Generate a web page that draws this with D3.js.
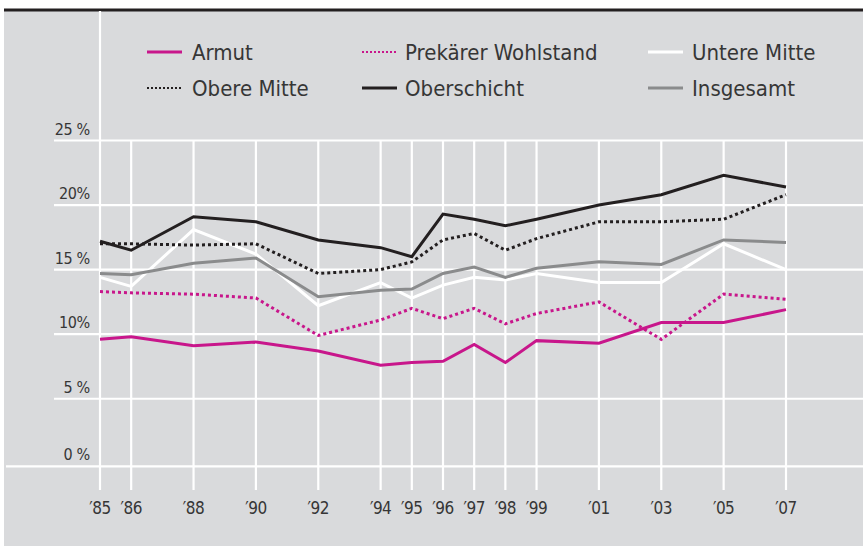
<!DOCTYPE html>
<html><head><meta charset="utf-8">
<script src="https://cdn.jsdelivr.net/npm/d3@7"></script>
<style>
html,body{margin:0;padding:0;background:#fff;}
svg{display:block;}
text{font-family:"DejaVu Sans Condensed","Liberation Sans Narrow",sans-serif;fill:#363636;}
</style></head>
<body>
<svg id="c" width="863" height="546"></svg>
<script>
const years = [1985,1986,1988,1990,1992,1994,1995,1996,1997,1998,1999,2001,2003,2005,2007];
const tickLabels = ["′85","′86","′88","′90","′92","′94","′95","′96","′97","′98","′99","′01","′03","′05","′07"];
const yTicks = [0,5,10,15,20,25];
const yTickLabels = ["0 %","5 %","10%","15 %","20%","25 %"];

const armut        = [9.6,9.8,9.1,9.4,8.7,7.6,7.8,7.9,9.2,7.8,9.5,9.3,10.9,10.9,11.9];
const prekaer      = [13.3,13.2,13.1,12.8,9.9,11.1,12.0,11.2,12.0,10.8,11.6,12.5,9.6,13.1,12.7];
const untereMitte  = [14.4,13.7,18.1,16.2,12.2,14.0,12.8,13.8,14.4,14.2,14.7,14.0,14.0,17.0,15.0];
const obereMitte   = [17.0,17.0,16.9,17.0,14.7,15.0,15.6,17.3,17.8,16.5,17.4,18.7,18.7,18.9,20.8];
const oberschicht  = [17.2,16.5,19.1,18.7,17.3,16.7,16.0,19.3,18.9,18.4,18.9,20.0,20.8,22.3,21.4];
const insgesamt    = [14.7,14.6,15.5,15.9,12.9,13.4,13.5,14.7,15.2,14.4,15.1,15.6,15.4,17.3,17.1];

const MAG = "#c8168b", BLK = "#231f20", GRY = "#8a8b8c", WHT = "#ffffff";
const series = [
  {name:"Untere Mitte", values:untereMitte, color:WHT, dash:null},
  {name:"Insgesamt", values:insgesamt, color:GRY, dash:null},
  {name:"Obere Mitte", values:obereMitte, color:BLK, dash:"3,3"},
  {name:"Oberschicht", values:oberschicht, color:BLK, dash:null},
  {name:"Prekärer Wohlstand", values:prekaer, color:MAG, dash:"3,3"},
  {name:"Armut", values:armut, color:MAG, dash:null}
];

const svg = d3.select("#c");
svg.append("rect").attr("x",4).attr("y",11).attr("width",859).attr("height",535).attr("fill","#d9dadc");
svg.append("rect").attr("x",4).attr("y",8.5).attr("width",859).attr("height",3).attr("fill","#231f20");

const x = d3.scaleLinear().domain([1985,2007]).range([100,786]);
const y = d3.scaleLinear().domain([0,25]).range([463.3,140.5]);
const baseOffset = 3;

const grid = svg.append("g");
grid.selectAll("line.h").data(yTicks).join("line")
  .attr("x1", d => d===0 ? 6 : 54).attr("x2", 863)
  .attr("y1", d => d===0 ? y(d)+baseOffset : y(d))
  .attr("y2", d => d===0 ? y(d)+baseOffset : y(d))
  .attr("stroke","#fff").attr("stroke-width",2.2);
grid.selectAll("line.v").data(years).join("line")
  .attr("x1", d=>x(d)).attr("x2", d=>x(d))
  .attr("y1", (d,i) => i===0 ? 11 : y(25))
  .attr("y2", 490)
  .attr("stroke","#fff").attr("stroke-width",2.2);

svg.selectAll("text.yl").data(yTicks).join("text")
  .attr("x",90).attr("y", d => (d===0 ? y(d)+baseOffset : y(d)) - 6)
  .attr("text-anchor","end").attr("font-size",16).attr("letter-spacing",-0.3)
  .text((d,i)=>yTickLabels[i]);

svg.selectAll("text.xl").data(years).join("text")
  .attr("x", d=>x(d)).attr("y",514)
  .attr("text-anchor","middle").attr("font-size",17).attr("letter-spacing",-0.5)
  .text((d,i)=>tickLabels[i]);

const line = d3.line().x((d,i)=>x(years[i])).y(d=>y(d));
svg.selectAll("path.s").data(series).join("path")
  .attr("d", d=>line(d.values))
  .attr("fill","none").attr("stroke", d=>d.color).attr("stroke-width",3)
  .attr("stroke-dasharray", d=>d.dash)
  .attr("stroke-linejoin","miter");

const legendItems = [
  {name:"Armut", color:MAG, dash:null, lx:147, tx:192, row:0},
  {name:"Prekärer Wohlstand", color:MAG, dash:"2,2", lx:362, tx:405, row:0},
  {name:"Untere Mitte", color:WHT, dash:null, lx:648, tx:692, row:0},
  {name:"Obere Mitte", color:BLK, dash:"2,2", lx:147, tx:192, row:1},
  {name:"Oberschicht", color:BLK, dash:null, lx:362, tx:405, row:1},
  {name:"Insgesamt", color:GRY, dash:null, lx:648, tx:692, row:1}
];
const rowsY = [52, 88];
const lg = svg.append("g");
lg.selectAll("line").data(legendItems).join("line")
  .attr("x1", d=>d.lx).attr("x2", d=>d.lx+35)
  .attr("y1", d=>rowsY[d.row]).attr("y2", d=>rowsY[d.row])
  .attr("stroke", d=>d.color).attr("stroke-width", d=>d.dash?2:3)
  .attr("stroke-dasharray", d=>d.dash);
lg.selectAll("text").data(legendItems).join("text")
  .attr("x", d=>d.tx).attr("y", d=>rowsY[d.row]+8)
  .attr("font-size",22)
  .text(d=>d.name);
</script>
</body></html>
